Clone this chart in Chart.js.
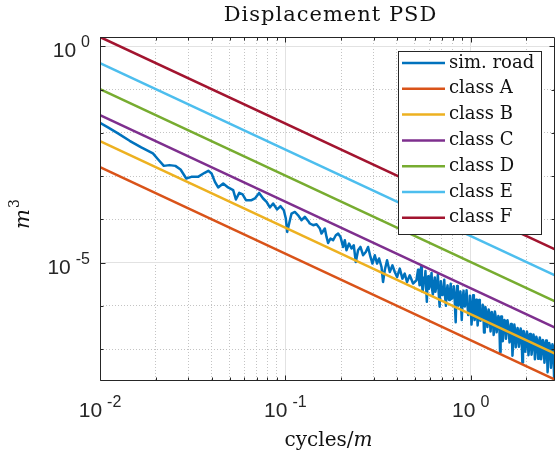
<!DOCTYPE html>
<html>
<head>
<meta charset="utf-8">
<script src="https://cdn.jsdelivr.net/npm/chart.js@4.4.1/dist/chart.umd.min.js"></script>
<style>
  html, body { margin: 0; padding: 0; background: #fff; }
  #wrap { width: 556px; height: 461px; position: relative; }
</style>
</head>
<body>
<div id="wrap"><canvas id="psd"></canvas></div>
<script>
// ---- axis limits + ticks (log-log, tight) ----
const xMin = 0.01, xMax = 2.85;
const yMin = 1.83e-8, yMax = 1.6384;
const xMajor = [0.01, 0.1, 1];
const xMajorExp = ["-2", "-1", "0"];
const xMinor = [0.02, 0.03, 0.04, 0.05, 0.06, 0.07, 0.08, 0.09, 0.2, 0.3, 0.4, 0.5, 0.6, 0.7, 0.8, 0.9, 2];
const yMajor = [1e-5, 1];
const yMajorExp = ["-5", "0"];
const yMinor = [1e-7, 1e-6, 1e-4, 1e-3, 1e-2, 1e-1];

// ---- ISO road classes, end points of each line (cycles/m -> m^3) ----
const classFreq = [0.01, 2.85];
const classA = [1.6e-3, 1.97e-8];
const classB = [6.4e-3, 7.88e-8];
const classC = [2.56e-2, 3.15e-7];
const classD = [0.1024, 1.26e-6];
const classE = [0.4096, 5.04e-6];
const classF = [1.6384, 2.02e-5];

// ---- simulated road PSD ----
const simFreq = [
  0.01, 0.01104, 0.0125, 0.01445, 0.0167, 0.0193, 0.0206, 0.0221, 0.0237, 0.0255,
  0.0272, 0.0292, 0.0311, 0.0338, 0.0367, 0.0384, 0.04, 0.0417, 0.0434, 0.0462,
  0.0491, 0.0523, 0.0541, 0.0564, 0.0588, 0.0613, 0.0657, 0.0685, 0.0722, 0.0759,
  0.0792, 0.0825, 0.0859, 0.0903, 0.0942, 0.0981, 0.1006, 0.1023, 0.1048, 0.108,
  0.1125, 0.1172, 0.1223, 0.1274, 0.1327, 0.1355, 0.1413, 0.1473, 0.1535, 0.1567,
  0.1633, 0.1668, 0.1701, 0.1752, 0.181, 0.1872, 0.1926, 0.1984, 0.2049, 0.2093,
  0.2137, 0.2207, 0.2275, 0.234, 0.2399, 0.2468, 0.2542, 0.2626, 0.2716, 0.2795,
  0.2879, 0.2952, 0.3038, 0.3126, 0.3205, 0.3302, 0.3366, 0.3438, 0.3538, 0.3659,
  0.3784, 0.3894, 0.4007, 0.4144, 0.4282, 0.4406, 0.4534, 0.4691, 0.4887, 0.5096,
  0.52, 0.525, 0.53, 0.535, 0.54, 0.545, 0.55, 0.555, 0.56, 0.565,
  0.57, 0.575, 0.58, 0.585, 0.59, 0.595, 0.60, 0.607, 0.615, 0.62,
  0.625, 0.632, 0.64, 0.645, 0.65, 0.657, 0.665, 0.672, 0.68, 0.685,
  0.69, 0.697, 0.705, 0.712, 0.72, 0.727, 0.735, 0.742, 0.75, 0.757,
  0.765, 0.772, 0.78, 0.787, 0.795, 0.802, 0.81, 0.82, 0.83, 0.837,
  0.845, 0.852, 0.86, 0.87, 0.88, 0.887, 0.895, 0.905, 0.915, 0.922,
  0.93, 0.94, 0.95, 0.96, 0.97, 0.98, 0.99, 1.0, 1.01, 1.02,
  1.03, 1.04, 1.05, 1.06, 1.07, 1.08, 1.09, 1.10, 1.11, 1.12,
  1.13, 1.145, 1.16, 1.17, 1.18, 1.19, 1.2, 1.215, 1.23, 1.24,
  1.25, 1.265, 1.28, 1.29, 1.3, 1.315, 1.33, 1.34, 1.35, 1.365,
  1.38, 1.395, 1.41, 1.425, 1.44, 1.45, 1.46, 1.475, 1.49, 1.505,
  1.52, 1.535, 1.55, 1.565, 1.58, 1.60, 1.62, 1.635, 1.65, 1.665,
  1.68, 1.70, 1.72, 1.735, 1.75, 1.77, 1.79, 1.805, 1.82, 1.84,
  1.86, 1.88, 1.9, 1.915, 1.93, 1.95, 1.97, 1.99, 2.01, 2.03,
  2.05, 2.07, 2.09, 2.11, 2.13, 2.155, 2.18, 2.20, 2.22, 2.24,
  2.26, 2.285, 2.31, 2.335, 2.36, 2.38, 2.4, 2.425, 2.45, 2.475,
  2.5, 2.525, 2.55, 2.575, 2.6, 2.625, 2.65, 2.68, 2.71, 2.735,
  2.76, 2.79, 2.82, 2.835, 2.85
];
const simPsd = [
  1.7e-2, 1.33e-2, 9.7e-3, 6.53e-3, 4.59e-3, 3.34e-3, 2.42e-3, 1.72e-3, 1.79e-3, 1.72e-3,
  1.42e-3, 8.8e-4, 9.58e-4, 9.58e-4, 1.19e-3, 1.32e-3, 1.15e-3, 7.34e-4, 5.45e-4, 6.74e-4,
  5.45e-4, 4.72e-4, 2.87e-4, 4.08e-4, 3.75e-4, 2.77e-4, 2.77e-4, 3.03e-4, 4.08e-4, 3.03e-4,
  2.53e-4, 1.88e-4, 2.32e-4, 1.69e-4, 2.01e-4, 1.62e-4, 1.04e-4, 5.11e-5, 8.0e-5, 1.36e-4,
  1.48e-4, 1.24e-4, 9.53e-5, 1.14e-4, 9.18e-5, 8.0e-5, 7.3e-5, 7.7e-5, 6.12e-5, 4.69e-5,
  6.12e-5, 3.92e-5, 2.84e-5, 3.6e-5, 3.28e-5, 4.28e-5, 4.69e-5, 3.92e-5, 2.3e-5, 3.28e-5,
  1.93e-5, 2.75e-5, 2.11e-5, 2.51e-5, 1.03e-5, 1.93e-5, 2.3e-5, 1.48e-5, 1.76e-5, 2.3e-5,
  1.35e-5, 9.48e-6, 1.48e-5, 9.48e-6, 1.24e-5, 7.91e-6, 3.56e-6, 6.64e-6, 1.13e-5, 6.06e-6,
  8.65e-6, 6.06e-6, 4.64e-6, 7.26e-6, 4.26e-6, 5.56e-6, 3.56e-6, 5.08e-6, 3.27e-6, 3.89e-6,
  6.86e-6, 4.41e-6, 2.98e-6, 3.09e-6, 7.88e-6, 4.09e-6, 2.12e-6, 2.87e-6, 4.53e-6, 3.81e-6,
  6.36e-6, 2.67e-6, 1.24e-6, 3.55e-6, 4.80e-6, 2.49e-6, 2.72e-6, 3.30e-6, 5.77e-6, 2.30e-6,
  1.82e-6, 3.04e-6, 4.53e-6, 2.12e-6, 2.58e-6, 2.82e-6, 5.20e-6, 1.96e-6, 9.54e-7, 2.59e-6,
  3.70e-6, 1.82e-6, 1.78e-6, 2.40e-6, 3.99e-6, 1.67e-6, 1.01e-6, 2.21e-6, 2.97e-6, 1.54e-6,
  1.36e-6, 2.04e-6, 3.22e-6, 1.43e-6, 1.55e-6, 1.89e-6, 2.83e-6, 1.31e-6, 4.17e-7, 1.74e-6,
  2.89e-6, 1.22e-6, 1.01e-6, 1.61e-6, 2.16e-6, 1.12e-6, 4.69e-7, 1.48e-6, 2.22e-6, 1.04e-6,
  9.69e-7, 1.38e-6, 2.29e-6, 1.12e-6, 6.11e-7, 6.99e-7, 1.70e-6, 1.03e-6, 3.68e-7, 6.46e-7,
  1.75e-6, 9.56e-7, 4.69e-7, 5.98e-7, 1.38e-6, 8.86e-7, 3.52e-7, 5.55e-7, 1.36e-6, 8.24e-7,
  4.51e-7, 5.13e-7, 1.06e-6, 7.55e-7, 2.42e-7, 4.75e-7, 9.38e-7, 7.00e-7, 3.24e-7, 4.37e-7,
  8.19e-7, 6.46e-7, 2.55e-7, 4.04e-7, 7.20e-7, 5.98e-7, 2.12e-7, 3.74e-7, 7.41e-7, 5.55e-7,
  2.44e-7, 3.45e-7, 5.79e-7, 5.09e-7, 8.58e-8, 3.20e-7, 5.70e-7, 4.75e-7, 1.52e-7, 2.97e-7,
  4.71e-7, 4.39e-7, 1.74e-7, 2.74e-7, 4.62e-7, 3.28e-7, 1.43e-7, 2.04e-7, 3.80e-7, 3.02e-7,
  7.03e-8, 1.89e-7, 3.68e-7, 2.79e-7, 1.10e-7, 1.74e-7, 3.06e-7, 2.57e-7, 1.13e-7, 1.61e-7,
  2.99e-7, 2.37e-7, 4.93e-8, 1.49e-7, 2.63e-7, 2.20e-7, 8.69e-8, 1.38e-7, 2.56e-7, 2.03e-7,
  7.22e-8, 1.27e-7, 2.24e-7, 1.88e-7, 7.43e-8, 1.17e-7, 2.18e-7, 1.73e-7, 5.83e-8, 1.09e-7,
  1.92e-7, 1.61e-7, 6.0e-8, 1.00e-7, 1.86e-7, 1.48e-7, 5.86e-8, 9.27e-8, 1.63e-7, 1.37e-7,
  4.85e-8, 8.55e-8, 1.59e-7, 1.26e-7, 2.93e-8, 7.91e-8, 1.39e-7, 1.17e-7, 3.71e-8, 7.29e-8,
  1.29e-7, 1.08e-7, 2.01e-8, 6.78e-8, 2.71e-8
];

const seriesLabels = ["sim. road", "class A", "class B", "class C", "class D", "class E", "class F"];
const seriesColors = ["#0072BD", "#D95319", "#EDB120", "#7E2F8E", "#77AC30", "#4DBEEE", "#A2142F"];

const pts = (xs, ys) => xs.map((x, i) => ({ x: x, y: ys[i] }));
const classSeries = [classA, classB, classC, classD, classE, classF];

// sim road sits under the class lines (higher order = drawn first)
const datasets = [{ data: pts(simFreq, simPsd), order: 1 }]
  .concat(classSeries.map((c) => ({ data: pts(classFreq, c), order: 0 })))
  .map((d, i) => Object.assign(d, {
    label: seriesLabels[i], borderColor: seriesColors[i], backgroundColor: seriesColors[i],
    borderWidth: 2.5, pointRadius: 0, tension: 0, borderJoinStyle: "round", fill: false
  }));

const AXIS = "#262626";
const SERIF = "'DejaVu Serif', serif";
const SANS = "'Liberation Sans', Arial, sans-serif";

// superscripted "10^k" label, anchored by align = "center" | "right"
function powLabel(ctx, exp, ax, base, align) {
  ctx.font = "21px " + SANS;
  const w10 = ctx.measureText("10").width;
  ctx.font = "16px " + SANS;
  const we = ctx.measureText(exp).width;
  const gap = 5;
  const total = w10 + gap + we;
  const x0 = align === "center" ? ax - total / 2 : ax - total;
  ctx.textAlign = "left";
  ctx.textBaseline = "alphabetic";
  ctx.font = "21px " + SANS;
  ctx.fillText("10", x0, base);
  ctx.font = "16px " + SANS;
  ctx.fillText(exp, x0 + w10 + gap, base - 10);
}

const deco = {
  id: "deco",
  afterDatasetsDraw(chart) {
    const ctx = chart.ctx;
    const { left, right, top, bottom } = chart.chartArea;
    const sx = chart.scales.x, sy = chart.scales.y;
    ctx.save();

    // box + inward ticks
    ctx.strokeStyle = AXIS;
    ctx.lineWidth = 1;
    const L = Math.round(left) + 0.5, R = Math.round(right) - 0.5;
    const T = Math.round(top) + 0.5, B = Math.round(bottom) - 0.5;
    ctx.beginPath();
    ctx.rect(L, T, R - L, B - T);
    const tick = (vals, len) => {
      vals.forEach((v) => {
        const px = Math.round(sx.getPixelForValue(v)) + 0.5;
        ctx.moveTo(px, B); ctx.lineTo(px, B - len);
        ctx.moveTo(px, T); ctx.lineTo(px, T + len);
      });
    };
    const ytick = (vals, len) => {
      vals.forEach((v) => {
        const py = Math.round(sy.getPixelForValue(v)) + 0.5;
        ctx.moveTo(L, py); ctx.lineTo(L + len, py);
        ctx.moveTo(R, py); ctx.lineTo(R - len, py);
      });
    };
    tick(xMajor, 5); tick(xMinor, 3);
    ytick(yMajor, 5); ytick(yMinor, 3);
    ctx.stroke();

    // tick labels
    ctx.fillStyle = AXIS;
    xMajor.forEach((v, i) => powLabel(ctx, xMajorExp[i], sx.getPixelForValue(v), 417, "center"));
    yMajor.forEach((v, i) => powLabel(ctx, yMajorExp[i], 90, sy.getPixelForValue(v) + 11, "right"));

    // title
    ctx.fillStyle = "#111";
    ctx.font = "21px " + SERIF;
    ctx.textAlign = "center";
    ctx.textBaseline = "alphabetic";
    try { ctx.letterSpacing = "1px"; } catch (e) {}
    ctx.fillText("Displacement PSD", (left + right) / 2 + 3, 21);
    try { ctx.letterSpacing = "0px"; } catch (e) {}

    // x label: cycles/m (m italic)
    ctx.font = "20px " + SERIF;
    const a = "cycles/";
    const wa = ctx.measureText(a).width;
    ctx.font = "italic 20px " + SERIF;
    const wm = ctx.measureText("m").width;
    const x0 = (left + right) / 2 + 1 - (wa + wm) / 2;
    ctx.textAlign = "left";
    ctx.font = "20px " + SERIF;
    ctx.fillText(a, x0, 446);
    ctx.font = "italic 20px " + SERIF;
    ctx.fillText("m", x0 + wa, 446);

    // y label: m^3
    ctx.save();
    ctx.translate(28.5, 229);
    ctx.rotate(-Math.PI / 2);
    ctx.font = "italic 21px " + SERIF;
    const wmy = ctx.measureText("m").width;
    ctx.fillText("m", 0, 0);
    ctx.font = "14px " + SERIF;
    ctx.fillText("3", wmy + 1, -10);
    ctx.restore();

    // legend
    const lx = 398.5, ly = 51.5, lw = 143, lh = 183;
    ctx.fillStyle = "#fff";
    ctx.fillRect(lx, ly, lw, lh);
    ctx.strokeStyle = AXIS;
    ctx.lineWidth = 1;
    ctx.strokeRect(lx, ly, lw, lh);
    ctx.font = "18px " + SERIF;
    ctx.textBaseline = "middle";
    chart.data.datasets.forEach((d, i) => {
      const yy = 63 + i * 25.8;
      ctx.strokeStyle = d.borderColor;
      ctx.lineWidth = 2.5;
      ctx.beginPath();
      ctx.moveTo(402, yy); ctx.lineTo(445, yy);
      ctx.stroke();
      ctx.fillStyle = "#111";
      ctx.fillText(d.label, 449, yy);
    });
    ctx.restore();
  }
};

const logAxis = (min, max, vals, extra) => Object.assign({
  type: "logarithmic", min: min, max: max,
  afterBuildTicks: (s) => { s.ticks = vals.map((v) => ({ value: v })); },
  ticks: { display: false },
  border: { display: false },
}, extra);

new Chart(document.getElementById("psd"), {
  type: "line",
  data: { datasets: datasets },
  options: {
    responsive: true, maintainAspectRatio: false, animation: false, events: [],
    layout: { padding: { top: 37, right: 1, left: 0, bottom: 0 } },
    plugins: { legend: { display: false }, tooltip: { enabled: false }, title: { display: false } },
    scales: {
      x: logAxis(xMin, xMax, xMajor, {
        position: "bottom",
        grid: { color: "#e2e2e2", lineWidth: 1, drawTicks: false },
        afterFit: (s) => { s.height = 80; },
      }),
      xm: logAxis(xMin, xMax, xMinor, {
        position: "bottom",
        grid: { color: "#c4c4c4", lineWidth: 1, drawTicks: false },
        border: { display: false, dash: [1, 2] },
        afterFit: (s) => { s.height = 0; },
      }),
      y: logAxis(yMin, yMax, yMajor, {
        position: "left",
        grid: { color: "#e2e2e2", lineWidth: 1, drawTicks: false },
        afterFit: (s) => { s.width = 100; },
      }),
      ym: logAxis(yMin, yMax, yMinor, {
        position: "left",
        grid: { color: "#c4c4c4", lineWidth: 1, drawTicks: false },
        border: { display: false, dash: [1, 2] },
        afterFit: (s) => { s.width = 0; },
      }),
    },
  },
  plugins: [deco],
});
</script>
</body>
</html>
